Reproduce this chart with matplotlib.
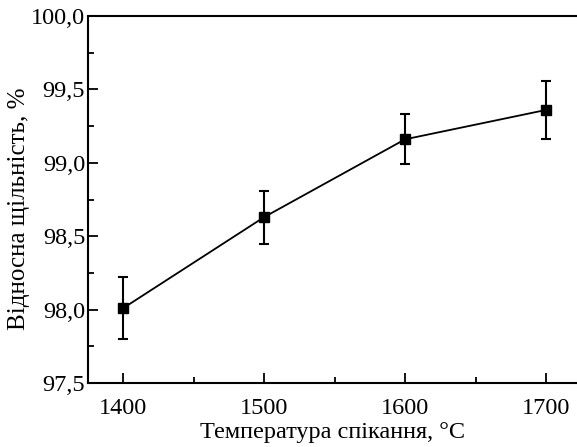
import matplotlib.pyplot as plt
from matplotlib.ticker import MultipleLocator, FuncFormatter

# Дані
temperatura = [1400, 1500, 1600, 1700]
shchilnist = [98.01, 98.63, 99.16, 99.36]
err_niz = [0.21, 0.18, 0.17, 0.20]
err_verh = [0.21, 0.18, 0.17, 0.20]

plt.rcParams['font.family'] = ['Liberation Serif', 'DejaVu Serif']

fig = plt.figure(figsize=(5.77, 4.47), dpi=100)
ax = fig.add_axes([88 / 577, (447 - 383) / 447, 1 - 88 / 577, (383 - 16) / 447])

ax.errorbar(temperatura, shchilnist, yerr=[err_niz, err_verh], color='black',
            marker='s', markersize=6.5, linewidth=1.3, elinewidth=1.5,
            capsize=3.5, capthick=1.5)

ax.set_xlim(1375, 1722)
ax.set_ylim(97.5, 100.0)
ax.xaxis.set_major_locator(MultipleLocator(100))
ax.xaxis.set_minor_locator(MultipleLocator(50))
ax.yaxis.set_major_locator(MultipleLocator(0.5))
ax.yaxis.set_minor_locator(MultipleLocator(0.25))
ax.yaxis.set_major_formatter(FuncFormatter(lambda v, p: f'{v:.1f}'.replace('.', ',')))

ax.tick_params(which='both', direction='in', labelsize=17.5, width=1.3)
ax.tick_params(which='major', length=7)
ax.tick_params(which='minor', length=4)
ax.tick_params(axis='x', pad=11)
ax.tick_params(axis='y', pad=2)
ax.spines['right'].set_visible(False)
for s in ['left', 'bottom', 'top']:
    ax.spines[s].set_linewidth(1.5)

ax.set_xlabel('Температура спікання, °С', fontsize=17.5, labelpad=2)
ax.set_ylabel('Відносна щільність, %', fontsize=18)
ax.yaxis.set_label_coords(-0.118, 0.474)

fig.savefig('out.png', dpi=100)
